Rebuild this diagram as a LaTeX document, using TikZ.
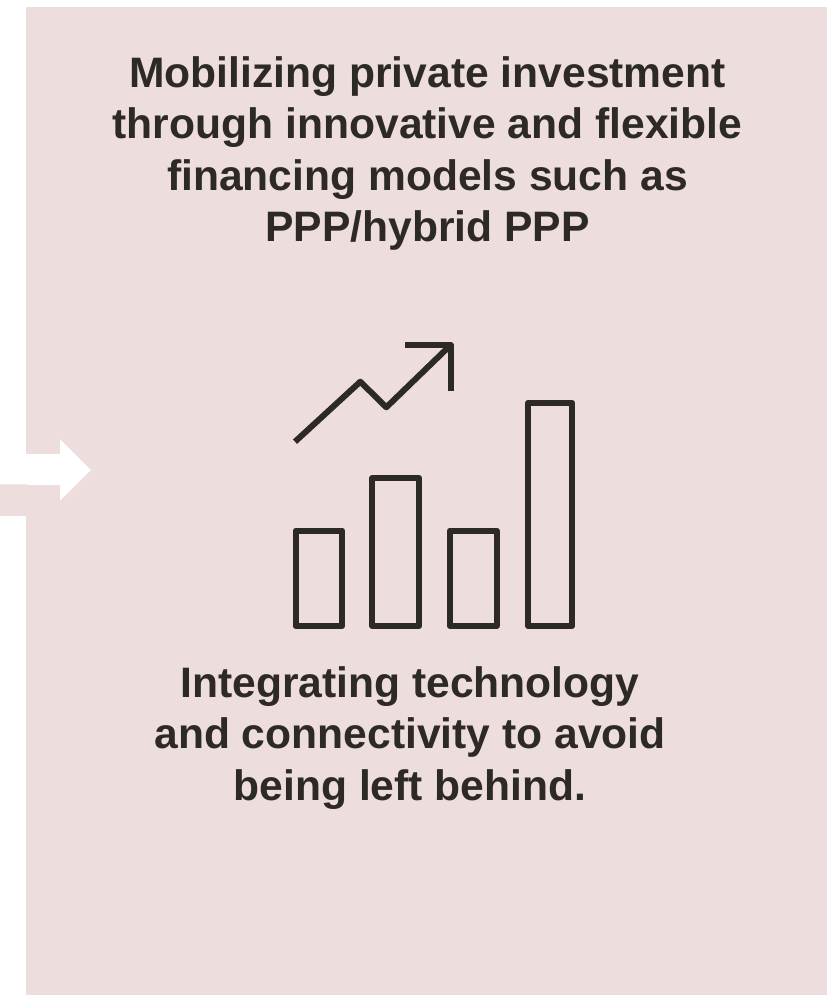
\documentclass[tikz,border=0pt]{standalone}
\usepackage{fontspec}
\setmainfont{Liberation Sans}
\definecolor{panel}{HTML}{EDDDDD}
\definecolor{ink}{HTML}{2D2A26}
\tikzset{
  headline/.style={align=center,font=\fontsize{42.6}{51.5}\selectfont\bfseries,text=ink,inner sep=0pt},
  glyph/.style={draw=ink,line width=6pt,line join=round},
}
\begin{document}
\begin{tikzpicture}[x=1pt,y=-1pt]
\useasboundingbox (0,0) rectangle (833,995);
\fill[white] (0,0) rectangle (833,995);
\fill[panel] (26,7) rectangle (827,995);
\fill[panel] (0,484.3) rectangle (28,515.7);
\fill[white] (0,454) -- (60,454) -- (60,439) -- (91,470) -- (60,500.7) -- (60,485) -- (28,485) -- (28,484.3) -- (0,484.3) -- cycle;
\node[headline] (top) at (427.5,153.5) {Mobilizing private investment\\through innovative and flexible\\financing models such as\\PPP/hybrid PPP};
\node[headline] (bottom) at (410,738) {Integrating technology\\and connectivity to avoid\\being left behind.};
\draw[glyph] (295.5,530.5) rectangle (342.3,626);
\draw[glyph] (372.4,478) rectangle (419.2,626);
\draw[glyph] (449.8,530.5) rectangle (496.6,626);
\draw[glyph] (528.1,402.8) rectangle (572.2,626);
\draw[glyph] (295,441.7) -- (360.3,381.7) -- (386.3,407.3) -- (450.7,345);
\draw[glyph] (405,345) -- (450.7,345) -- (450.7,391.3);
\end{tikzpicture}
\end{document}
